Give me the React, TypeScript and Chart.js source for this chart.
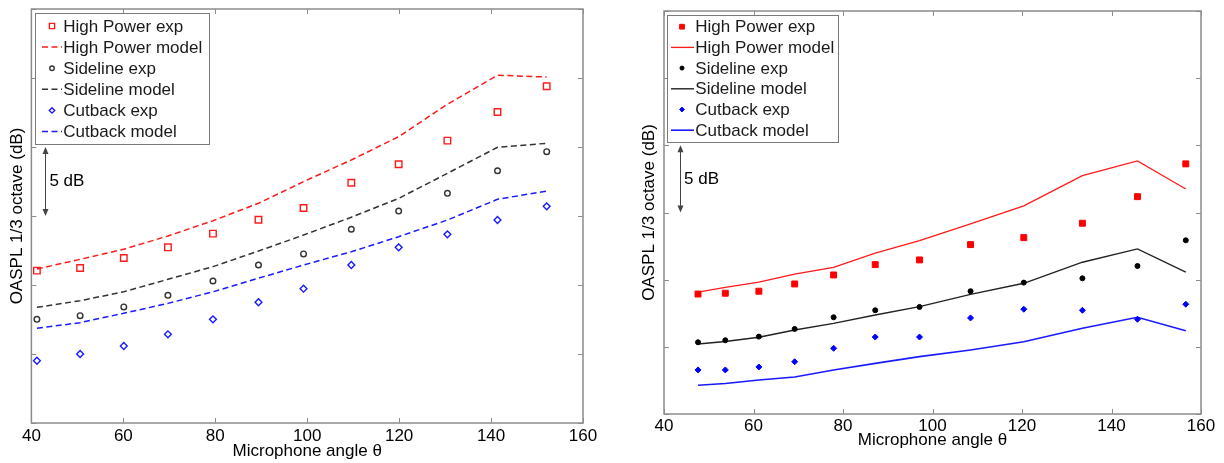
import React, { useEffect, useRef } from "react";
import { Chart, registerables } from "chart.js";

Chart.register(...registerables);

const FONT_FAMILY = "'Liberation Sans', Arial, Helvetica, sans-serif";

// ---------- shared text / ticks ----------
const X_TICKS = [40, 60, 80, 100, 120, 140, 160];
const Y_TICKS = [0, 5, 10, 15, 20, 25, 30]; // relative dB, labels hidden
const X_TITLE = "Microphone angle θ";
const Y_TITLE = "OASPL 1/3 octave (dB)";
const SCALE_LABEL = "5 dB";
const SCALE_FROM = 15;
const SCALE_TO = 20;
const LEGEND_LABELS = [
  "High Power exp",
  "High Power model",
  "Sideline exp",
  "Sideline model",
  "Cutback exp",
  "Cutback model",
];

// ---------- left panel data ----------
const xLeft = [41.2, 50.6, 60.1, 69.7, 79.5, 89.4, 99.2, 109.6, 119.9, 130.5, 141.4, 152.1];
const hpExpLeft = [11.04, 11.23, 11.96, 12.73, 13.72, 14.73, 15.58, 17.41, 18.75, 20.46, 22.54, 24.4];
const hpModelLeft = [11.16, 11.86, 12.59, 13.55, 14.66, 15.92, 17.49, 19.06, 20.75, 23.1, 25.2, 25.07];
const sideExpLeft = [7.51, 7.78, 8.41, 9.25, 10.29, 11.45, 12.25, 14.04, 15.36, 16.64, 18.28, 19.66];
const sideModelLeft = [8.38, 8.86, 9.51, 10.41, 11.33, 12.46, 13.62, 14.91, 16.28, 18.09, 19.98, 20.27];
const cutExpLeft = [4.51, 5.0, 5.58, 6.43, 7.51, 8.75, 9.73, 11.45, 12.73, 13.67, 14.71, 15.7];
const cutModelLeft = [6.86, 7.27, 7.95, 8.67, 9.51, 10.49, 11.45, 12.41, 13.5, 14.71, 16.21, 16.81];

// ---------- right panel data ----------
const xRight = [47.6, 53.7, 61.2, 69.2, 77.9, 87.2, 97.1, 108.5, 120.4, 133.5, 145.8, 156.6];
const hpExpRight = [8.93, 8.99, 9.14, 9.68, 10.35, 11.12, 11.47, 12.61, 13.13, 14.2, 16.18, 18.62];
const hpModelRight = [9.08, 9.43, 9.81, 10.42, 10.92, 11.97, 12.9, 14.15, 15.5, 17.74, 18.84, 16.75];
const sideExpRight = [5.34, 5.49, 5.76, 6.33, 7.2, 7.72, 7.97, 9.14, 9.78, 10.1, 11.02, 12.93];
const sideModelRight = [5.21, 5.4, 5.71, 6.25, 6.75, 7.37, 7.99, 8.91, 9.73, 11.3, 12.29, 10.57];
const cutExpRight = [3.28, 3.28, 3.5, 3.89, 4.89, 5.73, 5.73, 7.15, 7.8, 7.72, 7.05, 8.17];
const cutModelRight = [2.14, 2.27, 2.53, 2.76, 3.28, 3.77, 4.27, 4.77, 5.38, 6.38, 7.2, 6.2];

const RED = "#ff1a1a";
const BLACK = "#222222";
const BLUE = "#1a1aff";

function pts(xs: number[], ys: number[]) {
  return xs.map((x, i) => ({ x, y: ys[i] }));
}

function expSet(label: string, xs: number[], ys: number[], color: string, style: string, radius: number, filled: boolean) {
  return {
    label,
    data: pts(xs, ys),
    showLine: false,
    pointStyle: style,
    pointRadius: radius,
    pointBorderWidth: filled ? 1 : 1.4,
    borderColor: color,
    pointBorderColor: color,
    backgroundColor: filled ? color : "rgba(0,0,0,0)",
    pointBackgroundColor: filled ? color : "rgba(0,0,0,0)",
  };
}

function modelSet(label: string, xs: number[], ys: number[], color: string, dashed: boolean, width: number) {
  return {
    label,
    data: pts(xs, ys),
    showLine: true,
    pointRadius: 0,
    borderColor: color,
    backgroundColor: color,
    borderWidth: width,
    borderDash: dashed ? [6, 3.5] : [],
    tension: 0,
  };
}

function drawMarker(ctx: CanvasRenderingContext2D, style: string, x: number, y: number, r: number, stroke: string, fill: string, lw: number) {
  ctx.save();
  ctx.beginPath();
  if (style === "circle") {
    ctx.arc(x, y, r, 0, Math.PI * 2);
  } else if (style === "rect") {
    const s = r * Math.SQRT1_2;
    ctx.rect(x - s, y - s, 2 * s, 2 * s);
  } else {
    ctx.moveTo(x, y - r);
    ctx.lineTo(x + r, y);
    ctx.lineTo(x, y + r);
    ctx.lineTo(x - r, y);
    ctx.closePath();
  }
  ctx.fillStyle = fill;
  ctx.fill();
  ctx.strokeStyle = stroke;
  ctx.lineWidth = lw;
  ctx.stroke();
  ctx.restore();
}

const decoPlugin = {
  id: "deco",
  afterDraw(chart: any, _args: any, o: any) {
    const { ctx, chartArea: a, scales } = chart;
    const xs = scales.x;
    const ys = scales.y;
    ctx.save();
    // frame
    ctx.strokeStyle = "#8c8c8c";
    ctx.lineWidth = 1.5;
    ctx.strokeRect(a.left, a.top, a.right - a.left, a.bottom - a.top);
    // inward ticks
    ctx.lineWidth = 1;
    ctx.strokeStyle = "#8c8c8c";
    ctx.beginPath();
    xs.ticks.forEach((t: any) => {
      const px = Math.round(xs.getPixelForValue(t.value)) + 0.5;
      ctx.moveTo(px, a.bottom);
      ctx.lineTo(px, a.bottom - 5);
      ctx.moveTo(px, a.top);
      ctx.lineTo(px, a.top + 5);
    });
    ys.ticks.forEach((t: any) => {
      const py = Math.round(ys.getPixelForValue(t.value)) + 0.5;
      ctx.moveTo(a.left, py);
      ctx.lineTo(a.left + 5, py);
      ctx.moveTo(a.right, py);
      ctx.lineTo(a.right - 5, py);
    });
    ctx.stroke();

    // 5 dB scale arrow
    const ax = Math.round(a.left + o.arrowDx) + 0.5;
    const y0 = ys.getPixelForValue(SCALE_TO);
    const y1 = ys.getPixelForValue(SCALE_FROM);
    ctx.strokeStyle = "#444";
    ctx.fillStyle = "#444";
    ctx.lineWidth = 1;
    ctx.beginPath();
    ctx.moveTo(ax, y0 + 2);
    ctx.lineTo(ax, y1 - 2);
    ctx.stroke();
    ctx.beginPath();
    ctx.moveTo(ax, y0);
    ctx.lineTo(ax - 3, y0 + 7);
    ctx.lineTo(ax + 3, y0 + 7);
    ctx.closePath();
    ctx.fill();
    ctx.beginPath();
    ctx.moveTo(ax, y1);
    ctx.lineTo(ax - 3, y1 - 7);
    ctx.lineTo(ax + 3, y1 - 7);
    ctx.closePath();
    ctx.fill();
    ctx.fillStyle = "#000";
    ctx.font = `17px ${FONT_FAMILY}`;
    ctx.textBaseline = "middle";
    ctx.textAlign = "left";
    ctx.fillText(SCALE_LABEL, a.left + o.textDx, (y0 + y1) / 2);

    // legend
    const bl = a.left + o.boxDx;
    const bt = a.top + o.boxDy;
    ctx.fillStyle = "#fff";
    ctx.fillRect(bl, bt, o.boxW, o.boxH);
    ctx.strokeStyle = "#7a7a7a";
    ctx.lineWidth = 1;
    ctx.strokeRect(Math.round(bl) + 0.5, Math.round(bt) + 0.5, o.boxW, o.boxH);
    chart.data.datasets.forEach((ds: any, i: number) => {
      const cy = bt + o.row0 + i * o.rowH;
      if (ds.showLine) {
        ctx.save();
        ctx.strokeStyle = ds.borderColor;
        ctx.lineWidth = ds.borderWidth;
        ctx.setLineDash(ds.borderDash || []);
        ctx.beginPath();
        ctx.moveTo(bl + o.lineX0, cy);
        ctx.lineTo(bl + o.lineX1, cy);
        ctx.stroke();
        ctx.restore();
      } else {
        drawMarker(
          ctx,
          ds.pointStyle,
          bl + o.markerX,
          cy,
          ds.pointRadius * o.markerScale,
          ds.pointBorderColor,
          ds.pointBackgroundColor,
          ds.pointBorderWidth
        );
      }
      ctx.fillStyle = "#1a1a1a";
      ctx.font = `17px ${FONT_FAMILY}`;
      ctx.textBaseline = "middle";
      ctx.textAlign = "left";
      ctx.fillText(ds.label, bl + o.textX, cy + 1);
    });
    ctx.restore();
  },
};

type Geo = {
  padding: { left: number; top: number; right: number; bottom: number };
  yAxisW: number;
  xAxisH: number;
  yTitlePad: number;
  xTitlePad: number;
  tickPad: number;
  deco: any;
};

function makeConfig(datasets: any[], g: Geo): any {
  const font = { family: FONT_FAMILY, size: 17 };
  return {
    type: "scatter",
    data: { datasets },
    plugins: [decoPlugin],
    options: {
      responsive: false,
      animation: false,
      events: [],
      layout: { padding: g.padding },
      plugins: {
        legend: { display: false },
        tooltip: { enabled: false },
        deco: g.deco,
      },
      scales: {
        x: {
          type: "linear",
          min: X_TICKS[0],
          max: X_TICKS[X_TICKS.length - 1],
          afterBuildTicks: (s: any) => {
            s.ticks = X_TICKS.map((v) => ({ value: v }));
          },
          afterFit: (s: any) => {
            s.height = g.xAxisH;
          },
          grid: { display: false, drawTicks: false },
          border: { display: false },
          ticks: { color: "#000", font, padding: g.tickPad, maxRotation: 0, autoSkip: false },
          title: {
            display: true,
            text: X_TITLE,
            color: "#000",
            font,
            padding: { top: 0, bottom: g.xTitlePad },
          },
        },
        y: {
          type: "linear",
          min: Y_TICKS[0],
          max: Y_TICKS[Y_TICKS.length - 1],
          afterBuildTicks: (s: any) => {
            s.ticks = Y_TICKS.map((v) => ({ value: v }));
          },
          afterFit: (s: any) => {
            s.width = g.yAxisW;
          },
          grid: { display: false, drawTicks: false },
          border: { display: false },
          ticks: { display: false },
          title: {
            display: true,
            text: Y_TITLE,
            color: "#000",
            font,
            padding: { top: g.yTitlePad, bottom: 0 },
          },
        },
      },
    },
  };
}

const leftDatasets = () => [
  expSet(LEGEND_LABELS[0], xLeft, hpExpLeft, RED, "rect", 4.6, false),
  modelSet(LEGEND_LABELS[1], xLeft, hpModelLeft, RED, true, 1.5),
  expSet(LEGEND_LABELS[2], xLeft, sideExpLeft, "#333", "circle", 2.8, false),
  modelSet(LEGEND_LABELS[3], xLeft, sideModelLeft, "#333", true, 1.5),
  expSet(LEGEND_LABELS[4], xLeft, cutExpLeft, BLUE, "rectRot", 3.4, false),
  modelSet(LEGEND_LABELS[5], xLeft, cutModelLeft, BLUE, true, 1.5),
];

const rightDatasets = () => [
  expSet(LEGEND_LABELS[0], xRight, hpExpRight, "#ff0000", "rect", 4.2, true),
  modelSet(LEGEND_LABELS[1], xRight, hpModelRight, RED, false, 1.3),
  expSet(LEGEND_LABELS[2], xRight, sideExpRight, "#000", "circle", 2.5, true),
  modelSet(LEGEND_LABELS[3], xRight, sideModelRight, BLACK, false, 1.4),
  expSet(LEGEND_LABELS[4], xRight, cutExpRight, "#0000ff", "rectRot", 3.0, true),
  modelSet(LEGEND_LABELS[5], xRight, cutModelRight, BLUE, false, 1.6),
];

const leftGeo: Geo = {
  padding: { left: 0, top: 9, right: 29, bottom: 0 },
  yAxisW: 31.4,
  xAxisH: 40,
  yTitlePad: 7,
  xTitlePad: 1,
  tickPad: 3,
  deco: {
    arrowDx: 13.6,
    textDx: 18,
    boxDx: 3.6,
    boxDy: 4,
    boxW: 174,
    boxH: 131,
    row0: 13,
    rowH: 21.1,
    lineX0: 7,
    lineX1: 27,
    markerX: 17,
    textX: 28.3,
    markerScale: 0.8,
  },
};

const rightGeo: Geo = {
  padding: { left: 20, top: 11, right: 23, bottom: 0 },
  yAxisW: 32,
  xAxisH: 49,
  yTitlePad: 7,
  xTitlePad: 12,
  tickPad: 2,
  deco: {
    arrowDx: 16,
    textDx: 20,
    boxDx: 3,
    boxDy: 4,
    boxW: 171,
    boxH: 127,
    row0: 11.7,
    rowH: 20.7,
    lineX0: 4,
    lineX1: 27,
    markerX: 15,
    textX: 28.3,
    markerScale: 0.8,
  },
};

function Panel({ left, datasets, geo }: { left: number; datasets: () => any[]; geo: Geo }) {
  const ref = useRef<HTMLCanvasElement>(null);
  useEffect(() => {
    if (!ref.current) return;
    const chart = new Chart(ref.current, makeConfig(datasets(), geo));
    return () => chart.destroy();
  }, []);
  return (
    <canvas
      ref={ref}
      width={612}
      height={463}
      style={{ position: "absolute", left, top: 0, width: 612, height: 463 }}
    />
  );
}

export default function App() {
  return (
    <div
      style={{
        position: "fixed",
        left: 0,
        top: 0,
        width: 1224,
        height: 463,
        background: "#fff",
        overflow: "hidden",
      }}
    >
      <Panel left={0} datasets={leftDatasets} geo={leftGeo} />
      <Panel left={612} datasets={rightDatasets} geo={rightGeo} />
    </div>
  );
}
